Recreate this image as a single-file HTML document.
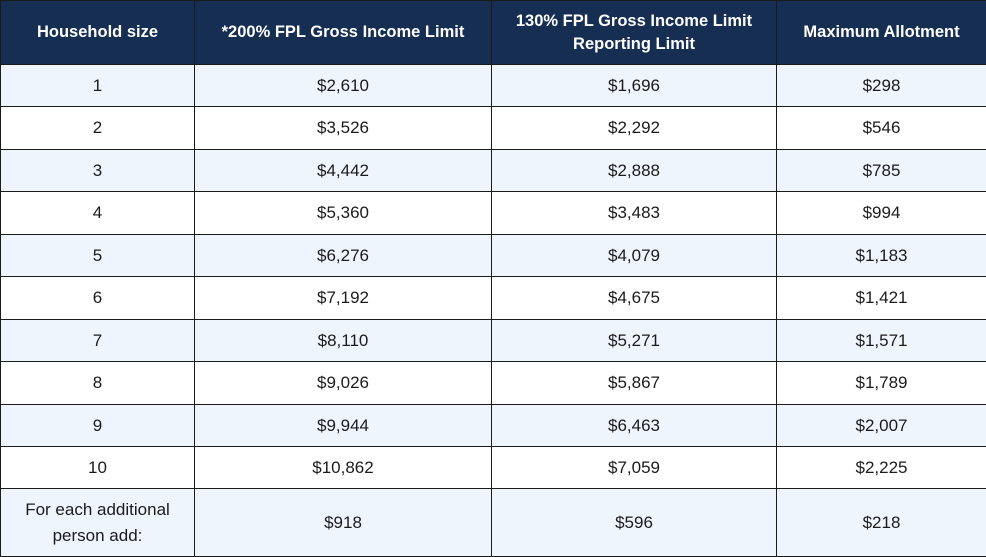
<!DOCTYPE html>
<html>
<head>
<meta charset="utf-8">
<style>
  html, body { margin:0; padding:0; background:#fff; }
  body { width:986px; height:557px; position:relative; overflow:hidden;
         font-family:"Liberation Sans", Arial, sans-serif; color:#1b1b1b; }
  .bg { position:absolute; left:0; width:986px; }
  .hd { background:#162e51; }
  .lt { background:#eef5fd; }
  .hl { position:absolute; left:0; width:986px; height:1px; background:#1b1b1b; }
  .vl { position:absolute; top:0; width:1px; height:557px; background:#1b1b1b; }
  .c { position:absolute; display:flex; align-items:center; justify-content:center; text-align:center; }
  .h { color:#fff; font-weight:bold; font-size:16.5px; line-height:23.3px; }
  .b { font-size:17px; line-height:25.5px; }
</style>
</head>
<body>
<!-- backgrounds -->
<div class="bg hd" style="top:0;height:64px;"></div>
<div class="bg lt" style="top:64px;height:42px;"></div>
<div class="bg lt" style="top:149px;height:42px;"></div>
<div class="bg lt" style="top:234px;height:42px;"></div>
<div class="bg lt" style="top:319px;height:42px;"></div>
<div class="bg lt" style="top:404px;height:42px;"></div>
<div class="bg lt" style="top:488px;height:69px;"></div>

<!-- horizontal lines -->
<div class="hl" style="top:0;"></div>
<div class="hl" style="top:64px;"></div>
<div class="hl" style="top:106px;"></div>
<div class="hl" style="top:149px;"></div>
<div class="hl" style="top:191px;"></div>
<div class="hl" style="top:234px;"></div>
<div class="hl" style="top:276px;"></div>
<div class="hl" style="top:319px;"></div>
<div class="hl" style="top:361px;"></div>
<div class="hl" style="top:404px;"></div>
<div class="hl" style="top:446px;"></div>
<div class="hl" style="top:488px;"></div>
<div class="hl" style="top:556px;"></div>

<!-- vertical lines -->
<div class="vl" style="left:0;"></div>
<div class="vl" style="left:194px;"></div>
<div class="vl" style="left:491px;"></div>
<div class="vl" style="left:776px;"></div>

<!-- header -->
<div class="c h" style="left:1px;width:193px;top:1px;height:64px;">Household size</div>
<div class="c h" style="left:195px;width:296px;top:1px;height:64px;">*200% FPL Gross Income Limit</div>
<div class="c h" style="left:492px;width:284px;top:1px;height:64px;">130% FPL Gross Income Limit<br>Reporting Limit</div>
<div class="c h" style="left:777px;width:209px;top:1px;height:64px;">Maximum Allotment</div>

<!-- rows -->
<div class="c b" style="left:1px;width:193px;top:65px;height:41px;">1</div>
<div class="c b" style="left:195px;width:296px;top:65px;height:41px;">$2,610</div>
<div class="c b" style="left:492px;width:284px;top:65px;height:41px;">$1,696</div>
<div class="c b" style="left:777px;width:209px;top:65px;height:41px;">$298</div>

<div class="c b" style="left:1px;width:193px;top:107px;height:42px;">2</div>
<div class="c b" style="left:195px;width:296px;top:107px;height:42px;">$3,526</div>
<div class="c b" style="left:492px;width:284px;top:107px;height:42px;">$2,292</div>
<div class="c b" style="left:777px;width:209px;top:107px;height:42px;">$546</div>

<div class="c b" style="left:1px;width:193px;top:150px;height:41px;">3</div>
<div class="c b" style="left:195px;width:296px;top:150px;height:41px;">$4,442</div>
<div class="c b" style="left:492px;width:284px;top:150px;height:41px;">$2,888</div>
<div class="c b" style="left:777px;width:209px;top:150px;height:41px;">$785</div>

<div class="c b" style="left:1px;width:193px;top:192px;height:42px;">4</div>
<div class="c b" style="left:195px;width:296px;top:192px;height:42px;">$5,360</div>
<div class="c b" style="left:492px;width:284px;top:192px;height:42px;">$3,483</div>
<div class="c b" style="left:777px;width:209px;top:192px;height:42px;">$994</div>

<div class="c b" style="left:1px;width:193px;top:235px;height:41px;">5</div>
<div class="c b" style="left:195px;width:296px;top:235px;height:41px;">$6,276</div>
<div class="c b" style="left:492px;width:284px;top:235px;height:41px;">$4,079</div>
<div class="c b" style="left:777px;width:209px;top:235px;height:41px;">$1,183</div>

<div class="c b" style="left:1px;width:193px;top:277px;height:42px;">6</div>
<div class="c b" style="left:195px;width:296px;top:277px;height:42px;">$7,192</div>
<div class="c b" style="left:492px;width:284px;top:277px;height:42px;">$4,675</div>
<div class="c b" style="left:777px;width:209px;top:277px;height:42px;">$1,421</div>

<div class="c b" style="left:1px;width:193px;top:320px;height:41px;">7</div>
<div class="c b" style="left:195px;width:296px;top:320px;height:41px;">$8,110</div>
<div class="c b" style="left:492px;width:284px;top:320px;height:41px;">$5,271</div>
<div class="c b" style="left:777px;width:209px;top:320px;height:41px;">$1,571</div>

<div class="c b" style="left:1px;width:193px;top:362px;height:42px;">8</div>
<div class="c b" style="left:195px;width:296px;top:362px;height:42px;">$9,026</div>
<div class="c b" style="left:492px;width:284px;top:362px;height:42px;">$5,867</div>
<div class="c b" style="left:777px;width:209px;top:362px;height:42px;">$1,789</div>

<div class="c b" style="left:1px;width:193px;top:405px;height:41px;">9</div>
<div class="c b" style="left:195px;width:296px;top:405px;height:41px;">$9,944</div>
<div class="c b" style="left:492px;width:284px;top:405px;height:41px;">$6,463</div>
<div class="c b" style="left:777px;width:209px;top:405px;height:41px;">$2,007</div>

<div class="c b" style="left:1px;width:193px;top:447px;height:41px;">10</div>
<div class="c b" style="left:195px;width:296px;top:447px;height:41px;">$10,862</div>
<div class="c b" style="left:492px;width:284px;top:447px;height:41px;">$7,059</div>
<div class="c b" style="left:777px;width:209px;top:447px;height:41px;">$2,225</div>

<div class="c b" style="left:1px;width:193px;top:489px;height:67px;">For each additional<br>person add:</div>
<div class="c b" style="left:195px;width:296px;top:489px;height:67px;">$918</div>
<div class="c b" style="left:492px;width:284px;top:489px;height:67px;">$596</div>
<div class="c b" style="left:777px;width:209px;top:489px;height:67px;">$218</div>
</body>
</html>
